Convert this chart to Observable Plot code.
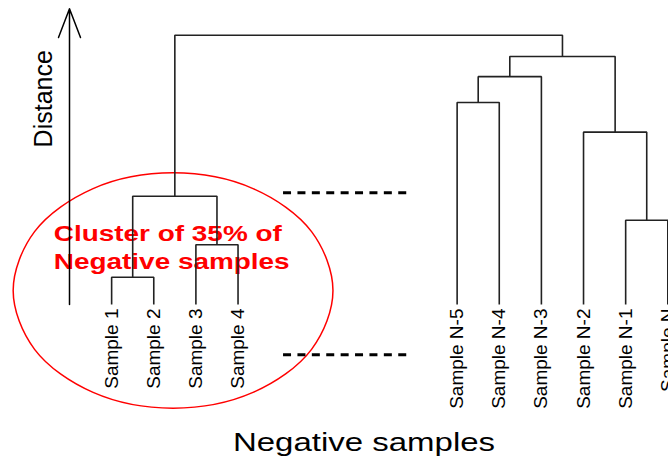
<!DOCTYPE html>
<html><head><meta charset="utf-8">
<script src="https://cdn.jsdelivr.net/npm/d3@7"></script>
<script src="https://cdn.jsdelivr.net/npm/@observablehq/plot@0.6"></script>
<style>html,body{margin:0;padding:0;background:#fff;overflow:hidden}</style>
</head><body><div id="chart"></div>
<script>
// ---- data (leaf order position, merge distances) ----
const leafNames = ["Sample 1","Sample 2","Sample 3","Sample 4","Sample N-5","Sample N-4","Sample N-3","Sample N-2","Sample N-1","Sample N"];
const leafPos = [1, 2, 3, 4, 9.2, 10.2, 11.2, 12.2, 13.2, 14.2];
// node ids: 0..9 leaves, 10.. merges in this order
const mergeLeft   = [0, 2, 10, 4, 13, 8, 7, 14, 12];
const mergeRight  = [1, 3, 11, 5, 6, 9, 15, 16, 17];
const mergeHeight = [1.01, 2.22, 4.02, 7.50, 8.46, 3.13, 6.40, 9.21, 10.0];

// annotations (data coordinates)
const arrowX = [0], arrowBase = [0], arrowTip = [10.98];
const dashY = [4.15, -1.87], dashX1 = [5.08], dashX2 = [8.02];
const ellipseX = [6.253, 5.745, 4.356, 2.458, 0.560, -0.829, -1.337, -0.829, 0.560, 2.458, 4.356, 5.745];
const ellipseY = [0.52, 2.706, 4.305, 4.891, 4.305, 2.706, 0.52, -1.666, -3.265, -3.851, -3.265, -1.666];
const clusterLabel = ["Cluster of 35% of\nNegative samples"], clusterX = [-0.373], clusterY = [3.06];
const xTitle = ["Negative samples"], xTitleX = [6.99], xTitleY = [-5.45];
const yTitle = ["Distance"], yTitleX = [-0.42], yTitleY = [7.64];

// ---- build tree geometry ----
const nodeX = leafPos.slice();
const nodeH = leafPos.map(() => 0);
mergeLeft.forEach((a, i) => {
  const b = mergeRight[i];
  nodeX.push((nodeX[a] + nodeX[b]) / 2);
  nodeH.push(mergeHeight[i]);
});
const segs = [];
mergeLeft.forEach((a, i) => {
  const b = mergeRight[i], h = mergeHeight[i];
  segs.push({id: i, x: nodeX[a], y: nodeH[a]});
  segs.push({id: i, x: nodeX[a], y: h});
  segs.push({id: i, x: nodeX[b], y: h});
  segs.push({id: i, x: nodeX[b], y: nodeH[b]});
});
const leaves = leafNames.map((name, i) => ({name, x: leafPos[i], y: 0}));
const ellipse = ellipseX.map((x, i) => ({x, y: ellipseY[i]}));

const plot = Plot.plot({
  width: 668, height: 461,
  marginTop: 0, marginRight: 0, marginBottom: 0, marginLeft: 0,
  x: {domain: [0, 14.2], range: [69, 667.3], axis: null},
  y: {domain: [0, 10], range: [304, 34.7], axis: null},
  style: {fontFamily: "'Liberation Sans', Arial, sans-serif", background: "#fff", overflow: "hidden"},
  marks: [
    Plot.line(ellipse, {x: "x", y: "y", curve: "catmull-rom-closed", stroke: "#ff0000", strokeWidth: 1.5}),
    Plot.text(clusterLabel, {x: clusterX, y: clusterY, text: d => d, fill: "#ff0000", fontWeight: "bold",
      fontSize: 22, textAnchor: "start", lineAnchor: "top", lineHeight: 1.24}),
    Plot.line(segs, {x: "x", y: "y", z: "id", stroke: "#222", strokeWidth: 1.6,
      strokeLinejoin: "miter", strokeLinecap: "butt"}),
    Plot.arrow(arrowX, {x1: d => d, x2: d => d, y1: arrowBase, y2: arrowTip, stroke: "#000",
      strokeWidth: 1.5, headLength: 30.7, headAngle: 42}),
    Plot.ruleY(dashY, {x1: dashX1[0], x2: dashX2[0], stroke: "#000", strokeWidth: 3, strokeDasharray: "8,6.4"}),
    Plot.text(leaves, {x: "x", y: "y", text: "name", rotate: -90, textAnchor: "end", lineAnchor: "middle",
      dy: 4, fontSize: 19, fill: "#000"}),
    Plot.text(yTitle, {x: yTitleX, y: yTitleY, text: d => d, rotate: -90, textAnchor: "middle",
      lineAnchor: "bottom", fontSize: 25, fill: "#000"}),
    Plot.text(xTitle, {x: xTitleX, y: xTitleY, text: d => d, textAnchor: "middle", lineAnchor: "bottom",
      fontSize: 25, fill: "#000"})
  ]
});

// widen the horizontal texts like in the reference
function stretch(match, sx) {
  plot.querySelectorAll("text").forEach(el => {
    if (el.textContent.replace(/\s+/g, " ").trim() !== match) return;
    let t = el.getAttribute("transform");
    if (!t) {
      const x = +(el.getAttribute("x") || 0), y = +(el.getAttribute("y") || 0);
      el.removeAttribute("x"); el.removeAttribute("y");
      t = `translate(${x},${y})`;
    }
    el.setAttribute("transform", t + ` scale(${sx},1)`);
  });
}
stretch("Cluster of 35% ofNegative samples", 1.27);
stretch("Cluster of 35% of Negative samples", 1.27);
stretch("Negative samples", 1.32);
document.getElementById("chart").appendChild(plot);
</script>
</body></html>
